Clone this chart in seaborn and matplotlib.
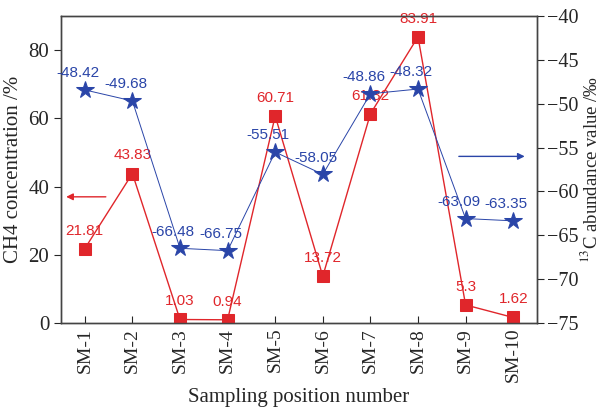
import matplotlib
matplotlib.use("Agg")
import pandas as pd
import matplotlib.pyplot as plt
import seaborn as sns

# Data
positions = ["SM-1", "SM-2", "SM-3", "SM-4", "SM-5", "SM-6", "SM-7", "SM-8", "SM-9", "SM-10"]
ch4_conc = [21.81, 43.83, 1.03, 0.94, 60.71, 13.72, 61.32, 83.91, 5.3, 1.62]
c13_value = [-48.42, -49.68, -66.48, -66.75, -55.51, -58.05, -48.86, -48.32, -63.09, -63.35]

RED = "#e0262b"
BLUE = "#2a45a8"

sns.set_theme(style="white")
plt.rcParams["font.family"] = ["Liberation Serif", "DejaVu Serif"]
plt.rcParams["mathtext.fontset"] = "stix"

df = pd.DataFrame({"x": range(1, len(positions) + 1), "ch4": ch4_conc, "c13": c13_value})

fig = plt.figure(figsize=(6.01, 4.12), dpi=100)
ax = fig.add_axes([0.1015, 0.216, 0.792, 0.745])
ax2 = ax.twinx()

sns.lineplot(data=df, x="x", y="ch4", ax=ax, color=RED, marker="s", markersize=9,
             markeredgecolor=RED, linewidth=1.0, zorder=3)
sns.lineplot(data=df, x="x", y="c13", ax=ax2, color=BLUE, marker="*", markersize=13,
             markeredgecolor=BLUE, linewidth=0.7, zorder=3)

lab_font = dict(family="Liberation Sans", fontsize=11)
for xi, v in zip(df["x"], ch4_conc):
    ax.annotate(f"{v:g}", (xi, v), xytext=(0, 8), textcoords="offset points",
                ha="center", va="bottom", color=RED, **lab_font)
for xi, v in zip(df["x"], c13_value):
    ax2.annotate(f"{v:.2f}", (xi, v), xytext=(-5, 7), textcoords="offset points",
                 ha="center", va="bottom", color=BLUE, **lab_font)

ax.set_xlim(0.5, 10.5)
ax.set_ylim(0, 90)
ax2.set_ylim(-75, -40)
ax.set_xticks(df["x"])
ax.set_xticklabels(positions, rotation=90, fontsize=14)
ax.set_yticks([0, 20, 40, 60, 80])
rticks = [-75, -70, -65, -60, -55, -50, -45, -40]
ax2.set_yticks(rticks)
ax2.set_yticklabels([f"\u2212{abs(t)}" for t in rticks])
ax.tick_params(axis="y", labelsize=15, direction="out", length=5, width=0.8, left=True)
ax.tick_params(axis="x", direction="in", length=5, width=0.8, bottom=True)
ax2.tick_params(axis="y", labelsize=14.5, direction="out", length=5, width=0.8, right=True, pad=2)

ax.set_xlabel("Sampling position number", fontsize=15)
ax.set_ylabel("CH4 concentration /%", fontsize=15)
ax2.set_ylabel("$^{13}$C abundance value /\u2030", fontsize=13.5, labelpad=1)

for a in (ax, ax2):
    for s in a.spines.values():
        s.set_color("#444444")
        s.set_linewidth(1.0)

# direction arrows
ax.annotate("", xy=(0.55, 37), xytext=(1.5, 37),
            arrowprops=dict(arrowstyle="-|>", color=RED, lw=1.0, mutation_scale=10))
ax2.annotate("", xy=(10.3, -56), xytext=(8.8, -56),
             arrowprops=dict(arrowstyle="-|>", color=BLUE, lw=1.0, mutation_scale=10))

fig.savefig("out.png", dpi=100)
